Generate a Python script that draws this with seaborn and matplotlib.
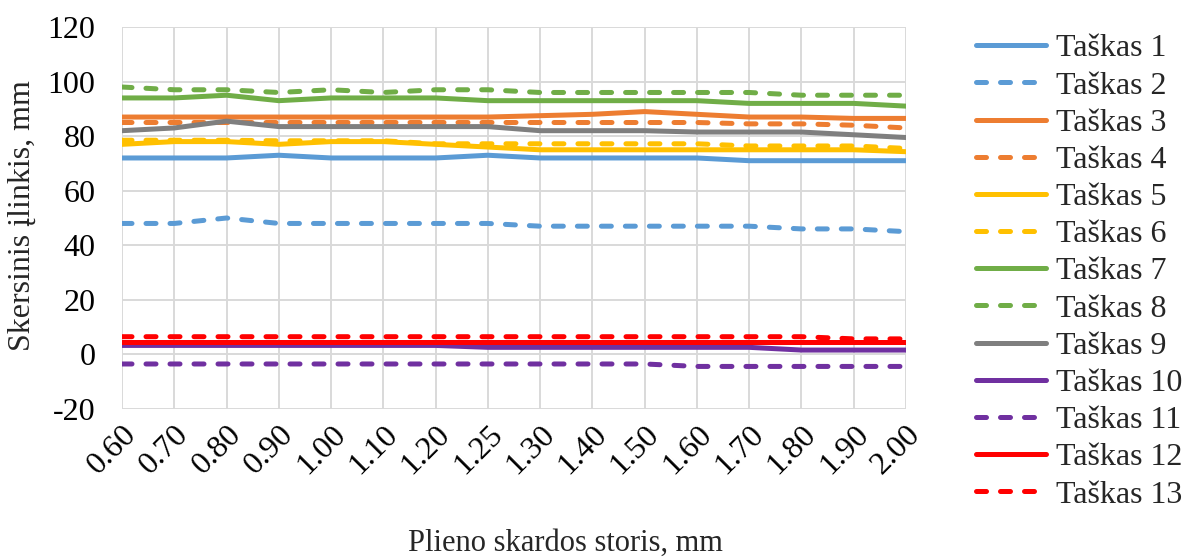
import matplotlib
matplotlib.use("Agg")
import matplotlib.pyplot as plt
import seaborn as sns
import numpy as np
import pandas as pd

# Plate thickness categories (mm)
thickness = ["0.60", "0.70", "0.80", "0.90", "1.00", "1.10", "1.20", "1.25",
             "1.30", "1.40", "1.50", "1.60", "1.70", "1.80", "1.90", "2.00"]

# Transverse deflection per measuring point (mm)
taskas_1 = [72, 72, 72, 73, 72, 72, 72, 73, 72, 72, 72, 72, 71, 71, 71, 71]
taskas_2 = [48, 48, 50, 48, 48, 48, 48, 48, 47, 47, 47, 47, 47, 46, 46, 45]
taskas_3 = [87, 87, 87, 87, 87, 87, 87, 87, 87.5, 88, 89, 88, 87, 87, 86.5, 86.5]
taskas_4 = [85, 85, 85, 85, 85, 85, 85, 85, 85, 85, 85, 85, 84.5, 84.5, 84, 83]
taskas_5 = [77, 78, 78, 77, 78, 78, 77, 76, 75, 75, 75, 75, 75, 75, 75, 74.3]
taskas_6 = [78.5, 78.5, 78.5, 78.3, 78.3, 78.3, 77.2, 77.2, 77.2, 77.2, 77.2, 77.2,
            76.4, 76.4, 76.4, 75.5]
taskas_7 = [94, 94, 95, 93, 94, 94, 94, 93, 93, 93, 93, 93, 92, 92, 92, 91]
taskas_8 = [98, 97, 97, 96, 97, 96, 97, 97, 96, 96, 96, 96, 96, 95, 95, 95]
taskas_9 = [82, 83, 85.5, 83.5, 83.5, 83.5, 83.5, 83.5, 82, 82, 82, 81.5, 81.5, 81.5,
            80.5, 79.5]
taskas_10 = [3.3, 3.3, 3.3, 3.3, 3.3, 3.3, 3.3, 2.6, 2.6, 2.6, 2.6, 2.6, 2.6, 1.6, 1.6, 1.6]
taskas_11 = [-3.5, -3.5, -3.5, -3.5, -3.5, -3.5, -3.5, -3.5, -3.5, -3.5, -3.5,
             -4.4, -4.4, -4.4, -4.4, -4.4]
taskas_12 = [4.5, 4.5, 4.5, 4.5, 4.5, 4.5, 4.5, 4.5, 4.5, 4.5, 4.5, 4.5, 4.5, 4.5, 4.5, 4.5]
taskas_13 = [6.5, 6.5, 6.5, 6.5, 6.5, 6.5, 6.5, 6.5, 6.5, 6.5, 6.5, 6.5, 6.5, 6.5, 5.7, 5.7]

series = [
    ("Taškas 1", taskas_1, "#5B9BD5", "-"),
    ("Taškas 2", taskas_2, "#5B9BD5", "--"),
    ("Taškas 3", taskas_3, "#ED7D31", "-"),
    ("Taškas 4", taskas_4, "#ED7D31", "--"),
    ("Taškas 5", taskas_5, "#FFC000", "-"),
    ("Taškas 6", taskas_6, "#FFC000", "--"),
    ("Taškas 7", taskas_7, "#70AD47", "-"),
    ("Taškas 8", taskas_8, "#70AD47", "--"),
    ("Taškas 9", taskas_9, "#7F7F7F", "-"),
    ("Taškas 10", taskas_10, "#7030A0", "-"),
    ("Taškas 11", taskas_11, "#7030A0", "--"),
    ("Taškas 12", taskas_12, "#FF0000", "-"),
    ("Taškas 13", taskas_13, "#FF0000", "--"),
]

sns.set_theme(style="white")
plt.rcParams["font.family"] = ["Liberation Serif", "DejaVu Serif"]
plt.rcParams["axes.unicode_minus"] = False

FS = 23

fig = plt.figure(figsize=(11.85, 5.58), dpi=100)
ax = fig.add_axes([122 / 1185, 1 - 409 / 558, (906 - 122) / 1185, (409 - 27) / 558])

pos = np.arange(len(thickness))
LW = 3.6
for name, vals, color, ls in series:
    df = pd.DataFrame({"x": pos, "y": vals})
    style = "-" if ls == "-" else (0, (2.0, 2.8))
    sns.lineplot(data=df, x="x", y="y", ax=ax, color=color, linewidth=LW,
                 linestyle=style, label=name, solid_capstyle="round",
                 dash_capstyle="round")

ax.set_xlim(0, len(thickness) - 1)
ax.set_ylim(-20, 120)
ax.set_yticks(np.arange(-20, 121, 20))
ax.set_xticks(pos)
ax.set_xticklabels(thickness, rotation=45, ha="right", va="top",
                   rotation_mode="anchor")
ax.tick_params(axis="y", length=0, pad=19, labelsize=FS, colors="black")
ax.tick_params(axis="x", length=0, pad=8, labelsize=FS, colors="black")

ax.grid(True, color="#D9D9D9", linewidth=1.4)
ax.set_axisbelow(True)
for s in ax.spines.values():
    s.set_visible(False)

ax.set_xlabel("")
ax.set_ylabel("")
fig.text(22 / 1185, 1 - 216 / 558, "Skersinis įlinkis, mm", rotation=90,
         ha="center", va="center", fontsize=FS)
fig.text(565 / 1185, 1 - 543 / 558, "Plieno skardos storis, mm",
         ha="center", va="center", fontsize=22)

ax.legend(loc="upper left", bbox_to_anchor=(976 / 1185, 1 - 34 / 558),
          bbox_transform=fig.transFigure, frameon=False, fontsize=FS,
          handlelength=2.2, handletextpad=0.3, labelspacing=0.245,
          borderaxespad=0, borderpad=0)

fig.savefig("out.png", dpi=100)
